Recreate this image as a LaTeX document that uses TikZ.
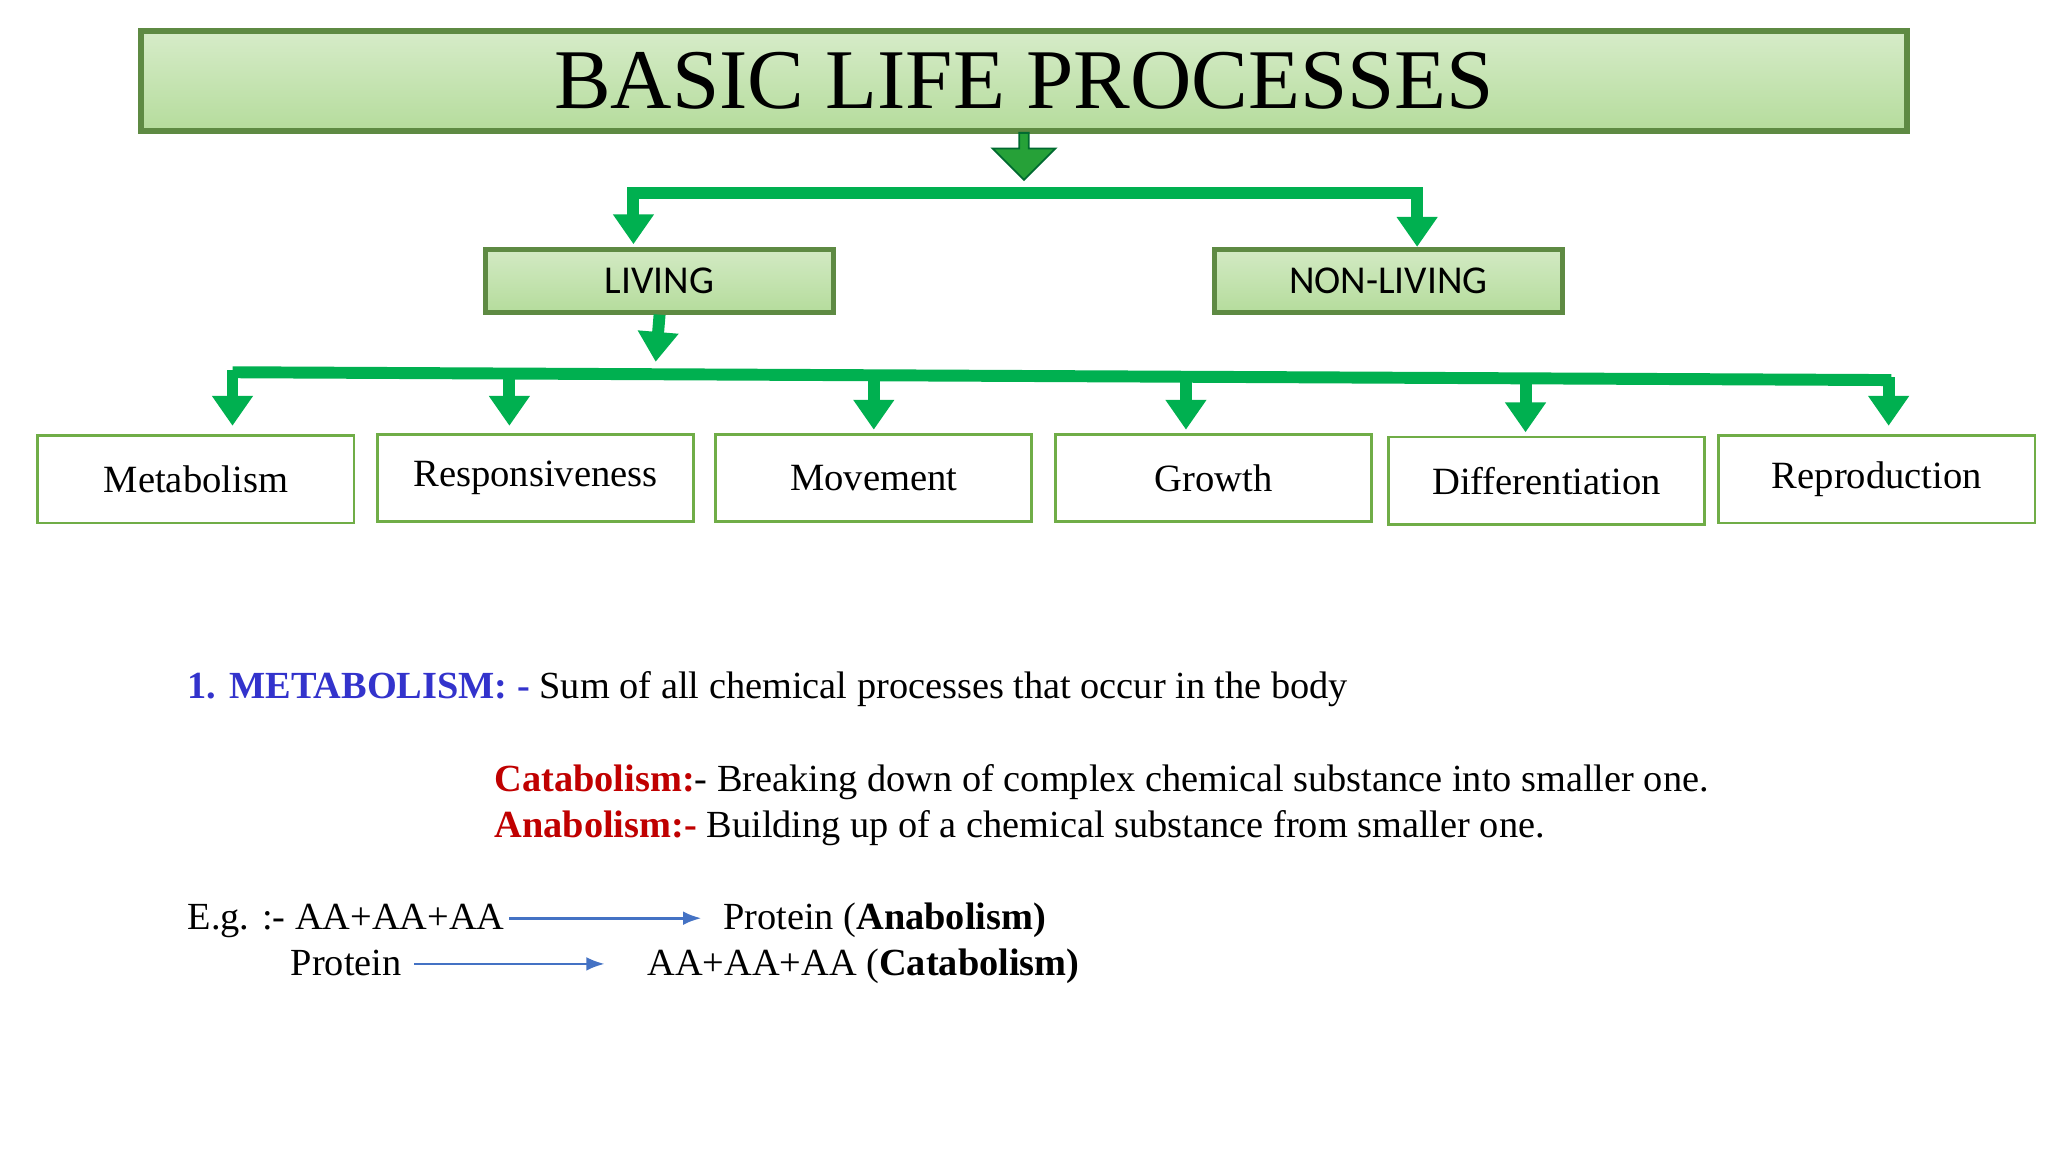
\documentclass[tikz,border=0pt]{standalone}
\usepackage{fontspec}
\setmainfont{Liberation Serif}
\newfontfamily\sansf{Carlito}
\usetikzlibrary{arrows.meta,shapes.arrows}
\definecolor{lg}{HTML}{00B050}
\definecolor{bx}{HTML}{70AD47}
\definecolor{hd}{HTML}{B5DC9C}
\definecolor{hdb}{HTML}{5E8A43}
\definecolor{bl}{HTML}{3333CC}
\definecolor{rd}{HTML}{C00000}
\definecolor{ar}{HTML}{4472C4}
\newlength\pu\setlength\pu{0.01cm}
\begin{document}
\begin{tikzpicture}[x=0.01cm,y=-0.01cm,
 sub/.style={draw=hdb,line width=1.1pt,top color=hd!60!white,bottom color=hd,font=\sansf\fontsize{8.6}{10}\selectfont,minimum width=266\pu,minimum height=48\pu},
 item/.style={draw=bx,line width=0.6pt,minimum width=242\pu,minimum height=67\pu,font=\fontsize{8.4}{10}\selectfont},
 con/.style={draw=lg,line width=2.6pt},
 tip/.style={-{Triangle[length=6.5pt,width=8.5pt]},draw=lg,line width=2.6pt},
 txt/.style={inner sep=0,anchor=base west,font=\fontsize{8.35}{10}\selectfont},
 thin/.style={-{Latex[length=4pt]},draw=ar,line width=0.6pt}]
\useasboundingbox[fill=white] (0,0) rectangle (1568,882);
\node[draw=hdb,line width=1.3pt,top color=hd!55!white,bottom color=hd,minimum width=1352\pu,minimum height=77\pu,inner sep=0,font=\fontsize{18.5}{22}\selectfont] (title) at (784,62) {BASIC LIFE PROCESSES};
\node[single arrow,shape border rotate=270,fill=lg!70!olive,draw=lg!60!black,minimum width=48\pu,single arrow head extend=4\pu,minimum height=36\pu,inner sep=0,anchor=north] (bigarr) at (784,101) {};
\node[sub] (living) at (505,215) {LIVING};
\node[sub] (nonliving) at (1063,215) {NON-LIVING};
\coordinate (hl) at (485,148); \coordinate (hr) at (1085,148);
\draw[con] (hl) -- (hr);
\draw[tip] ([yshift=1.3pt]hl) -- (485,187);
\draw[tip] ([yshift=1.3pt]hr) -- (1085,189);
\draw[tip] (living.south) -- (502,277);
\coordinate (a1) at (178,285); \coordinate (a6) at (1448,291);
\draw[con] (a1) -- (a6);
\node[item] (m1) at (150,367) {Metabolism};
\node[item] (m2) at (410,366) {Responsiveness};
\node[item] (m3) at (669,366) {Movement};
\node[item] (m4) at (929,366) {Growth};
\node[item] (m5) at (1184,368) {Differentiation};
\node[item] (m6) at (1437,367) {Reproduction};
\foreach \x/\y/\e in {178/285/326,390/286/326,669/287/329,908/288/329,1168/289/331,1446/291/326}
  \draw[tip] (\x,\y-2) -- (\x,\e);
\node[txt] (l1) at (143,535) {\textcolor{bl}{\textbf{1. METABOLISM: -}} Sum of all chemical processes that occur in the body};
\node[txt] (l2) at (378,606) {\textcolor{rd}{\textbf{Catabolism:}}- Breaking down of complex chemical substance into smaller one.};
\node[txt] (l3) at (378,641) {\textcolor{rd}{\textbf{Anabolism:-}} Building up of a chemical substance from smaller one.};
\node[txt] (e1) at (143,712) {E.g. :- AA+AA+AA};
\node[txt] (e2) at (553,712) {Protein (\textbf{Anabolism)}};
\node[txt] (f1) at (222,747) {Protein};
\node[txt] (f2) at (495,747) {AA+AA+AA (\textbf{Catabolism)}};
\coordinate (p1) at (390,703); \coordinate (p2) at (537,703);
\coordinate (q1) at (317,738); \coordinate (q2) at (463,738);
\draw[thin] (p1) -- (p2);
\draw[thin] (q1) -- (q2);
\end{tikzpicture}
\end{document}
